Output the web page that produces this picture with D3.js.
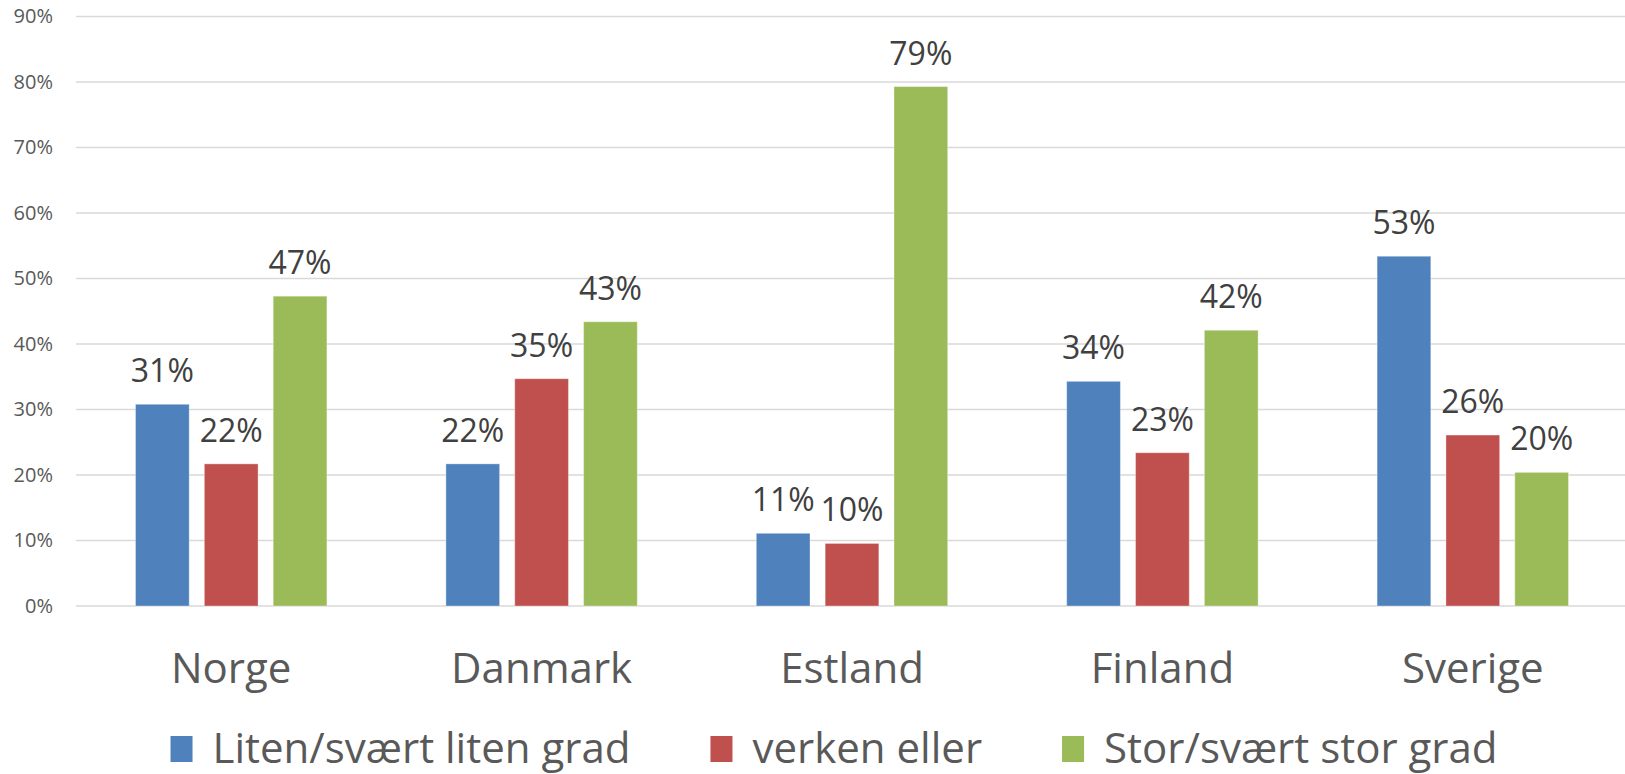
<!DOCTYPE html>
<html lang="no">
<head>
  <meta charset="UTF-8">
  <title>Grad per land</title>
  <script src="https://d3js.org/d3.v7.min.js"></script>
  <style>
    body {
      margin: 0;
      padding: 0;
      background: #ffffff;
      font-family: 'Open Sans', 'Noto Sans', sans-serif;
    }
    svg { display: block; }
  </style>
</head>
<body>
  <svg id="chart"></svg>

  <script>
    // Data
    const countries = ["Norge", "Danmark", "Estland", "Finland", "Sverige"];
    const seriesNames = ["Liten/svært liten grad", "verken eller", "Stor/svært stor grad"];
    const liten  = [0.308, 0.217, 0.111, 0.343, 0.534];
    const verken = [0.217, 0.347, 0.0955, 0.234, 0.261];
    const stor   = [0.473, 0.434, 0.793, 0.421, 0.204];
    const colors = ["#4f81bd", "#c0504d", "#9bbb59"];
    const yTicks = [0, 0.1, 0.2, 0.3, 0.4, 0.5, 0.6, 0.7, 0.8, 0.9];

    const width = 1625, height = 774;
    const svg = d3.select("#chart").attr("width", width).attr("height", height);

    // Scales
    const x0 = d3.scaleBand().domain(countries).range([76, 1628]);
    const x1 = d3.scaleBand().domain(seriesNames)
      .range([59.5, x0.bandwidth() - 59.5])
      .paddingInner(0.22);
    const y = d3.scaleLinear().domain([0, 0.9]).range([606, 16.5]);
    const fmt = d3.format(".0%");

    // Gridlines
    svg.append("g")
      .selectAll("line")
      .data(yTicks)
      .join("line")
        .attr("x1", 76)
        .attr("x2", width)
        .attr("y1", d => y(d))
        .attr("y2", d => y(d))
        .attr("stroke", "#d9d9d9")
        .attr("stroke-width", 1.5);

    // Y axis labels
    const yAxis = svg.append("g")
      .attr("transform", "translate(53,0)")
      .call(d3.axisLeft(y).tickValues(yTicks).tickFormat(fmt).tickSize(0).tickPadding(0));
    yAxis.select(".domain").remove();
    yAxis.selectAll("text")
      .attr("font-family", "'Open Sans', sans-serif")
      .attr("font-size", 20)
      .attr("fill", "#595959");

    // X axis labels
    const xAxis = svg.append("g")
      .attr("transform", "translate(0,606)")
      .call(d3.axisBottom(x0).tickSize(0).tickPadding(0));
    xAxis.select(".domain").remove();
    xAxis.selectAll("text")
      .attr("dy", null)
      .attr("y", 77)
      .attr("font-family", "'Open Sans', sans-serif")
      .attr("font-size", 42)
      .attr("fill", "#595959");

    // Build rows for bars
    const seriesValues = [liten, verken, stor];
    const rows = [];
    countries.forEach((c, i) => {
      seriesNames.forEach((s, j) => {
        rows.push({ country: c, series: s, idx: j, value: seriesValues[j][i] });
      });
    });

    const groups = svg.append("g");
    groups.selectAll("rect")
      .data(rows)
      .join("rect")
        .attr("x", d => x0(d.country) + x1(d.series))
        .attr("y", d => y(d.value))
        .attr("width", x1.bandwidth())
        .attr("height", d => y(0) - y(d.value))
        .attr("fill", d => colors[d.idx])
        .attr("stroke", "rgba(255,255,255,0.35)")
        .attr("stroke-width", 1);

    // Data labels
    groups.selectAll("text")
      .data(rows)
      .join("text")
        .attr("x", d => x0(d.country) + x1(d.series) + x1.bandwidth() / 2)
        .attr("y", d => y(d.value) - 22)
        .attr("text-anchor", "middle")
        .attr("font-size", 32)
        .attr("fill", "#404040")
        .text(d => fmt(d.value));

    // Legend, centred under the plot
    const legend = svg.append("g");
    const items = legend.selectAll("g")
      .data(seriesNames)
      .join("g");
    items.append("rect")
      .attr("width", 22)
      .attr("height", 26)
      .attr("y", 736)
      .attr("fill", (d, i) => colors[i]);
    items.append("text")
      .attr("x", 42)
      .attr("y", 763)
      .attr("font-size", 42)
      .attr("fill", "#595959")
      .text(d => d);

    let offset = 0;
    const positions = [];
    items.each(function() {
      const w = 42 + d3.select(this).select("text").node().getComputedTextLength();
      positions.push(offset);
      offset += w + 80;
    });
    const total = offset - 80;
    const start = 834 - total / 2;
    items.attr("transform", (d, i) => "translate(" + (start + positions[i]) + ",0)");
  </script>
</body>
</html>
